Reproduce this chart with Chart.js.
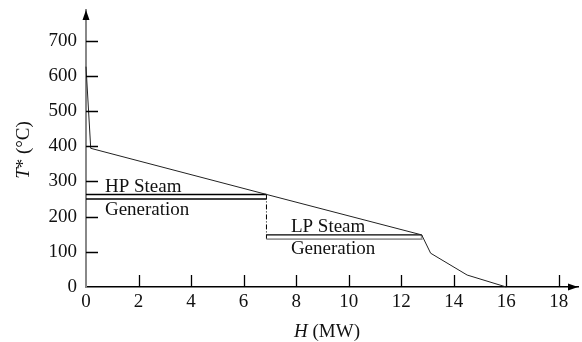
<!DOCTYPE html>
<html>
<head>
<meta charset="utf-8">
<script src="https://cdn.jsdelivr.net/npm/chart.js@4.4.1/dist/chart.umd.min.js"></script>
<style>
  html, body { margin: 0; padding: 0; background: #fff; }
  #wrap { width: 582px; height: 342px; }
</style>
</head>
<body>
<div id="wrap"><canvas id="gcc" width="582" height="342"></canvas></div>
<script>
// Grand composite curve
const curveH = [0, 0.18, 6.87, 12.78, 13.12, 14.51, 16];
const curveT = [626, 394, 263, 148, 96, 34, 0];

// Steam generation bands (H range and two T levels each)
const hpRange = [0, 6.87];
const hpLevels = [263, 250];
const lpRange = [6.87, 12.78];
const lpLevels = [148, 136];

const xTicks = [2, 4, 6, 8, 10, 12, 14, 16, 18];
const yTicks = [100, 200, 300, 400, 500, 600, 700];

const FONT = "'Liberation Serif', 'DejaVu Serif', serif";

function pts(xs, ys) {
  return xs.map((x, i) => ({ x: x, y: ys[i] }));
}

const lineDefaults = { borderWidth: 1, pointRadius: 0, fill: false, tension: 0, clip: false };

const datasets = [
  Object.assign({}, lineDefaults, { data: pts(curveH, curveT), borderColor: '#222' }),
  Object.assign({}, lineDefaults, { data: pts(hpRange, [hpLevels[0], hpLevels[0]]), borderColor: '#000', borderWidth: 1.4 }),
  Object.assign({}, lineDefaults, { data: pts(hpRange, [hpLevels[1], hpLevels[1]]), borderColor: '#000', borderWidth: 1.4 }),
  Object.assign({}, lineDefaults, { data: pts(lpRange, [lpLevels[0], lpLevels[0]]), borderColor: '#000', borderWidth: 1.4 }),
  Object.assign({}, lineDefaults, { data: pts([lpRange[0], lpRange[1], lpRange[1]], [lpLevels[1], lpLevels[1], lpLevels[0]]), borderColor: '#999', borderWidth: 1.8 }),
  Object.assign({}, lineDefaults, { data: pts([hpRange[1], hpRange[1]], [hpLevels[0], lpLevels[1]]), borderColor: '#000', borderDash: [5, 2, 1, 2] })
];

// Inward ticks, arrowheads, axis titles and band labels
const decor = {
  id: 'decor',
  afterDraw(chart) {
    const ctx = chart.ctx;
    const xs = chart.scales.x, ys = chart.scales.y;
    const a = chart.chartArea;
    const x0 = xs.getPixelForValue(0), y0 = ys.getPixelForValue(0);
    ctx.save();

    // ticks pointing into the plot
    ctx.strokeStyle = '#000';
    ctx.lineWidth = 1.3;
    ctx.beginPath();
    xTicks.forEach(v => {
      const px = Math.round(xs.getPixelForValue(v)) + 0.5;
      ctx.moveTo(px, y0);
      ctx.lineTo(px, y0 - 12);
    });
    yTicks.forEach(v => {
      const py = Math.round(ys.getPixelForValue(v)) + 0.5;
      ctx.moveTo(x0, py);
      ctx.lineTo(x0 + 12, py);
    });
    ctx.stroke();

    // arrowheads
    ctx.fillStyle = '#000';
    ctx.beginPath();
    ctx.moveTo(a.right, y0);
    ctx.lineTo(a.right - 10, y0 - 3.5);
    ctx.lineTo(a.right - 10, y0 + 3.5);
    ctx.closePath();
    ctx.fill();
    ctx.beginPath();
    ctx.moveTo(x0, a.top);
    ctx.lineTo(x0 - 3.5, a.top + 10);
    ctx.lineTo(x0 + 3.5, a.top + 10);
    ctx.closePath();
    ctx.fill();

    // band labels
    ctx.fillStyle = '#111';
    ctx.font = '19px ' + FONT;
    ctx.textAlign = 'left';
    ctx.textBaseline = 'alphabetic';
    const label = (t, hx, ty) => ctx.fillText(t, xs.getPixelForValue(hx), ys.getPixelForValue(ty));
    label('HP Steam', 0.72, 270);
    label('Generation', 0.72, 205);
    label('LP Steam', 7.8, 157);
    label('Generation', 7.8, 95);

    // x title: italic H + (MW)
    const xt = 327;
    ctx.font = 'italic 19px ' + FONT;
    const w1 = ctx.measureText('H').width;
    ctx.font = '19px ' + FONT;
    const w2 = ctx.measureText(' (MW)').width;
    const sx = xt - (w1 + w2) / 2;
    ctx.font = 'italic 19px ' + FONT;
    ctx.fillText('H', sx, 337);
    ctx.font = '19px ' + FONT;
    ctx.fillText(' (MW)', sx + w1, 337);

    // y title: italic T + * (°C), rotated
    ctx.translate(29, 150);
    ctx.rotate(-Math.PI / 2);
    ctx.font = 'italic 19px ' + FONT;
    const v1 = ctx.measureText('T').width;
    ctx.font = '19px ' + FONT;
    const v2 = ctx.measureText('* (°C)').width;
    const sy = -(v1 + v2) / 2;
    ctx.font = 'italic 19px ' + FONT;
    ctx.fillText('T', sy, 0);
    ctx.font = '19px ' + FONT;
    ctx.fillText('* (°C)', sy + v1, 0);
    ctx.restore();
  }
};

function noEdgePadding(scale) {
  scale.paddingTop = 0;
  scale.paddingBottom = 0;
  scale.paddingLeft = 0;
  scale.paddingRight = 0;
}

new Chart(document.getElementById('gcc'), {
  type: 'line',
  data: { datasets: datasets },
  options: {
    responsive: false,
    animation: false,
    events: [],
    layout: { padding: { left: 0, right: 4, top: 10, bottom: 0 } },
    plugins: { legend: { display: false }, tooltip: { enabled: false } },
    scales: {
      x: {
        type: 'linear',
        min: 0,
        max: 18.73,
        afterFit(scale) { scale.height = 55; noEdgePadding(scale); },
        afterBuildTicks(scale) {
          scale.ticks = [0].concat(xTicks).map(v => ({ value: v }));
        },
        ticks: { color: '#111', font: { family: FONT, size: 19 }, padding: 4, maxRotation: 0, autoSkip: false },
        grid: { display: false, drawTicks: false },
        border: { display: true, color: '#000', width: 1.5 }
      },
      y: {
        type: 'linear',
        min: 0,
        max: 787,
        afterFit(scale) { scale.width = 86; noEdgePadding(scale); },
        afterBuildTicks(scale) {
          scale.ticks = [0].concat(yTicks).map(v => ({ value: v }));
        },
        ticks: { color: '#111', font: { family: FONT, size: 19 }, padding: 9, autoSkip: false },
        grid: { display: false, drawTicks: false },
        border: { display: true, color: '#888', width: 2 }
      }
    }
  },
  plugins: [decor]
});
</script>
</body>
</html>
